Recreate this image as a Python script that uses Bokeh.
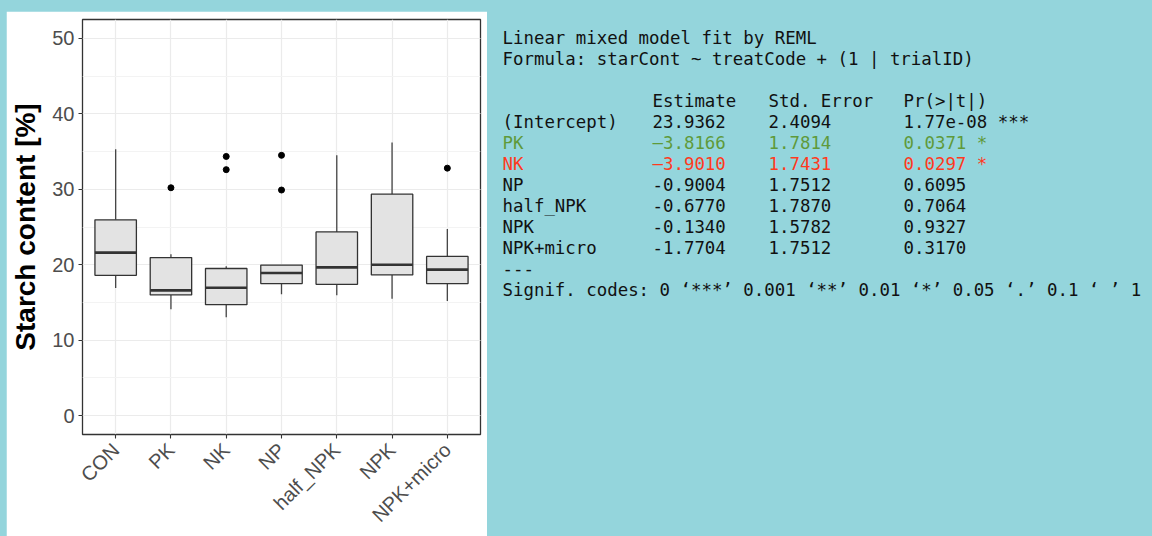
import math
from bokeh.plotting import figure
from bokeh.models import Range1d, FixedTicker, SingleIntervalTicker, Row
from bokeh.core.properties import value
from bokeh.embed import file_html
from bokeh.resources import INLINE

# ---- box plot data: starch content per treatment ----
categories = ["CON", "PK", "NK", "NP", "half_NPK", "NPK", "NPK+micro"]
whisker_low = [16.9, 14.1, 13.05, 16.1, 15.95, 15.5, 15.2]
q1 = [18.6, 16.0, 14.7, 17.5, 17.4, 18.65, 17.5]
medians = [21.6, 16.6, 16.95, 18.9, 19.65, 20.0, 19.35]
q3 = [25.95, 20.95, 19.5, 19.95, 24.35, 29.35, 21.1]
whisker_high = [35.3, 21.4, 19.8, 19.95, 34.5, 36.2, 24.75]
outlier_cats = ["PK", "NK", "NK", "NP", "NP", "NPK+micro"]
outlier_vals = [30.2, 34.35, 32.6, 34.5, 29.9, 32.8]

# ---- mixed model summary ----
header_lines = ["Linear mixed model fit by REML",
                "Formula: starCont ~ treatCode + (1 | trialID)"]
col_headers = ["Estimate", "Std. Error", "Pr(>|t|)"]
terms = ["(Intercept)", "PK", "NK", "NP", "half_NPK", "NPK", "NPK+micro"]
estimates = ["23.9362", "\u20133.8166", "\u20133.9010", "-0.9004", "-0.6770", "-0.1340", "-1.7704"]
std_errors = ["2.4094", "1.7814", "1.7431", "1.7512", "1.7870", "1.5782", "1.7512"]
p_values = ["1.77e-08", "0.0371", "0.0297", "0.6095", "0.7064", "0.9327", "0.3170"]
stars = ["***", "*", "*", "", "", "", ""]
footer_lines = ["---",
                "Signif. codes: 0 \u2018***\u2019 0.001 \u2018**\u2019 0.01 \u2018*\u2019 0.05 \u2018.\u2019 0.1 \u2018 \u2019 1"]

TEAL = "#94d5dc"
GREY20 = "#333333"
row_colors = ["#111111", "#5f9a3a", "#ff3a1e", "#111111", "#111111", "#111111", "#111111"]

# ---------------- left panel: box plot ----------------
xs = [i + 1 for i in range(len(categories))]
pos = {c: i + 1 for i, c in enumerate(categories)}
half_w = 0.375

p = figure(width=481, height=525, margin=(11, 0, 0, 6),
           x_range=Range1d(0.4, len(categories) + 0.6), y_range=Range1d(-2.5, 52.5),
           toolbar_location=None, output_backend="svg",
           min_border_left=76, min_border_right=7, min_border_top=8, min_border_bottom=102,
           background_fill_color="white", border_fill_color="white")
p.frame_align = False
p.outline_line_color = GREY20
p.outline_line_width = 1.3

p.yaxis.ticker = SingleIntervalTicker(interval=10, num_minor_ticks=2)
p.xaxis.ticker = FixedTicker(ticks=xs)
p.xaxis.major_label_overrides = {x: c for x, c in zip(xs, categories)}

p.xgrid.grid_line_color = "#ebebeb"
p.xgrid.grid_line_width = 1.2
p.ygrid.grid_line_color = "#ebebeb"
p.ygrid.grid_line_width = 1.2
p.ygrid.minor_grid_line_color = "#f3f3f3"
p.ygrid.minor_grid_line_width = 1.0

for ax in (p.xaxis, p.yaxis):
    ax.axis_line_color = None
    ax.major_tick_line_color = GREY20
    ax.major_tick_line_width = 1.1
    ax.major_tick_out = 4
    ax.major_tick_in = 0
    ax.minor_tick_line_color = None
    ax.major_label_text_color = "#4d4d4d"
    ax.major_label_text_font = "Liberation Sans"

p.yaxis.major_label_text_font_size = "20px"
p.yaxis.major_label_standoff = 4
p.yaxis.axis_label = "Starch content [%]"
p.yaxis.axis_label_text_font = "Liberation Sans"
p.yaxis.axis_label_text_font_size = "28px"
p.yaxis.axis_label_text_font_style = "bold"
p.yaxis.axis_label_text_color = "black"
p.yaxis.axis_label_standoff = 8

p.xaxis.major_label_text_font_size = "20px"
p.xaxis.major_label_orientation = math.pi / 4
p.xaxis.major_label_standoff = 8

# whiskers
p.segment(x0=xs, x1=xs, y0=q3, y1=whisker_high, line_color="#444444", line_width=1.3)
p.segment(x0=xs, x1=xs, y0=whisker_low, y1=q1, line_color="#444444", line_width=1.3)
# boxes
p.vbar(x=xs, width=2 * half_w, bottom=q1, top=q3, fill_color="#e3e3e3",
       line_color=GREY20, line_width=1.3)
# medians
p.segment(x0=[x - half_w for x in xs], x1=[x + half_w for x in xs], y0=medians, y1=medians,
          line_color=GREY20, line_width=2.6)
# outliers
p.scatter(x=[pos[c] for c in outlier_cats], y=outlier_vals, size=6,
          fill_color="black", line_color="black")

# ---------------- right panel: model summary ----------------
r = figure(width=665, height=536, x_range=Range1d(487, 1152), y_range=Range1d(536, 0),
           x_axis_type=None, y_axis_type=None, toolbar_location=None, output_backend="svg",
           min_border=0, background_fill_color=TEAL, border_fill_color=TEAL)
r.frame_align = False
r.outline_line_color = None
r.xgrid.visible = False
r.ygrid.visible = False

mono = value("DejaVu Sans Mono")
fsize = "17.4px"
line0, step = 37, 21
col_x = [502, 652, 768, 903]

def line_y(i):
    return line0 + step * i

r.text(x=[col_x[0]] * 2, y=[line_y(0), line_y(1)], text=header_lines,
       text_font=mono, text_font_size=fsize, text_baseline="middle", text_color="#111111")
r.text(x=col_x[1:], y=[line_y(3)] * 3, text=col_headers,
       text_font=mono, text_font_size=fsize, text_baseline="middle", text_color="#111111")

rows_y = [line_y(4 + i) for i in range(len(terms))]
p_text = [(pv + " " + s) if s else pv for pv, s in zip(p_values, stars)]
for xcol, vals in zip(col_x, [terms, estimates, std_errors, p_text]):
    r.text(x=[xcol] * len(vals), y=rows_y, text=vals, text_color=row_colors,
           text_font=mono, text_font_size=fsize, text_baseline="middle")

r.text(x=[col_x[0]] * 2, y=[line_y(11), line_y(12)], text=footer_lines,
       text_font=mono, text_font_size=fsize, text_baseline="middle", text_color="#111111")

layout = Row(children=[p, r], spacing=0, styles={"background-color": TEAL})

open("out.html", "w").write(file_html(layout, INLINE))
